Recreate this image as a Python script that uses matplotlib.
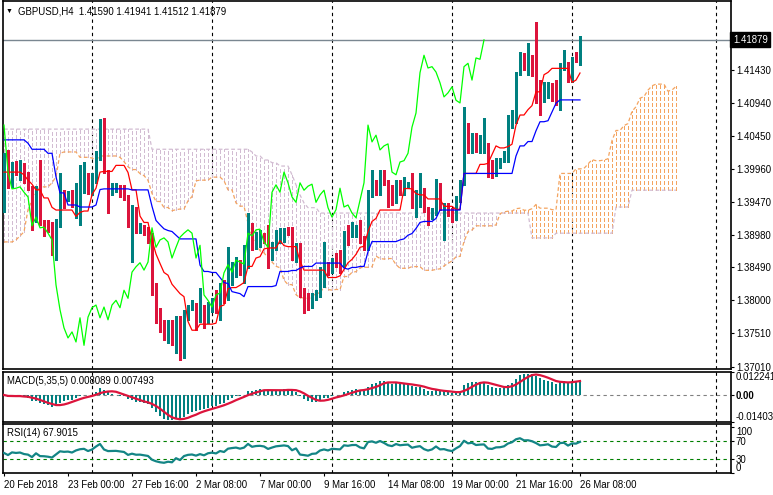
import numpy as np
import pandas as pd
import matplotlib
matplotlib.use("Agg")
import matplotlib.pyplot as plt
from matplotlib.transforms import blended_transform_factory

plt.rcParams['font.family'] = ['Liberation Sans', 'DejaVu Sans']

# GBPUSD H4 bars, 20 Feb 2018 16:00 .. 26 Mar 2018 08:00
opens = [1.3975, 1.4005, 1.3970, 1.4003, 1.3994, 1.3999, 1.3976, 1.3967, 1.3924, 1.3967,
         1.3915, 1.3912, 1.3903, 1.3887, 1.3920, 1.3960, 1.3952, 1.3955, 1.3942, 1.3967,
         1.3982, 1.3987, 1.3961, 1.3979, 1.4019, 1.4061, 1.3991, 1.3966, 1.3967, 1.3969,
         1.3961, 1.3954, 1.3911, 1.3924, 1.3908, 1.3909, 1.3900, 1.3890, 1.3823, 1.3786,
         1.3759, 1.3744, 1.3753, 1.3738, 1.3774, 1.3733, 1.3775, 1.3789, 1.3793, 1.3774,
         1.3790, 1.3771, 1.3793, 1.3800, 1.3789, 1.3815, 1.3803, 1.3842, 1.3850, 1.3856,
         1.3845, 1.3857, 1.3908, 1.3879, 1.3890, 1.3894, 1.3887, 1.3863, 1.3879, 1.3894,
         1.3900, 1.3905, 1.3900, 1.3863, 1.3882, 1.3808, 1.3800, 1.3790, 1.3808, 1.3811,
         1.3841, 1.3853, 1.3842, 1.3860, 1.3857, 1.3854, 1.3900, 1.3896, 1.3905, 1.3906,
         1.3887, 1.3879, 1.3961, 1.3972, 1.3961, 1.3991, 1.3975, 1.3954, 1.3946, 1.3975,
         1.3964, 1.3970, 1.3973, 1.3946, 1.3957, 1.3964, 1.3938, 1.3924, 1.3935, 1.3967,
         1.3939, 1.3942, 1.3930, 1.3923, 1.3949, 1.3975, 1.4061, 1.4036, 1.4046, 1.4024,
         1.4030, 1.4033, 1.3991, 1.3987, 1.4006, 1.4008, 1.4019, 1.4058, 1.4079, 1.4139,
         1.4165, 1.4146, 1.4148, 1.4140, 1.4124, 1.4103, 1.4109, 1.4118, 1.4098, 1.4094,
         1.4148, 1.4153, 1.4128, 1.4161, 1.41590]
highs = [1.4019, 1.4024, 1.4006, 1.4008, 1.4009, 1.4005, 1.3991, 1.3970, 1.3970, 1.4009,
         1.3920, 1.3920, 1.3917, 1.3921, 1.3990, 1.3964, 1.3963, 1.3964, 1.3975, 1.4002,
         1.4006, 1.3990, 1.3990, 1.4022, 1.4070, 1.4072, 1.3994, 1.3975, 1.3975, 1.3972,
         1.3972, 1.3957, 1.3942, 1.3939, 1.3915, 1.3912, 1.3909, 1.3900, 1.3826, 1.3789,
         1.3771, 1.3771, 1.3771, 1.3777, 1.3777, 1.3786, 1.3793, 1.3800, 1.3796, 1.3818,
         1.3793, 1.3798, 1.3803, 1.3815, 1.3826, 1.3830, 1.3879, 1.3857, 1.3865, 1.3860,
         1.3882, 1.3930, 1.3915, 1.3902, 1.3905, 1.3900, 1.3912, 1.3887, 1.3905, 1.3908,
         1.3908, 1.3909, 1.3909, 1.3885, 1.3885, 1.3818, 1.3811, 1.3811, 1.3815, 1.3850,
         1.3887, 1.3857, 1.3863, 1.3871, 1.3875, 1.3903, 1.3912, 1.3917, 1.3912, 1.3920,
         1.3896, 1.3964, 1.3994, 1.3979, 1.3994, 1.3994, 1.3979, 1.3972, 1.3979, 1.3979,
         1.3984, 1.3976, 1.3990, 1.3964, 1.3990, 1.3967, 1.3939, 1.3938, 1.3981, 1.3975,
         1.3945, 1.3945, 1.3938, 1.3955, 1.3979, 1.4088, 1.4064, 1.4049, 1.4049, 1.4046,
         1.4072, 1.4034, 1.4009, 1.4012, 1.4012, 1.4022, 1.4076, 1.4083, 1.4140, 1.4170,
         1.4168, 1.4183, 1.4165, 1.4215, 1.4128, 1.4125, 1.4125, 1.4124, 1.4128, 1.4153,
         1.4173, 1.4155, 1.4162, 1.4170, 1.41941]
lows = [1.3932, 1.3967, 1.3969, 1.3987, 1.3979, 1.3975, 1.3964, 1.3905, 1.3917, 1.3912,
        1.3896, 1.3902, 1.3868, 1.3860, 1.3909, 1.3938, 1.3948, 1.3939, 1.3923, 1.3912,
        1.3960, 1.3958, 1.3957, 1.3975, 1.4009, 1.3990, 1.3930, 1.3957, 1.3961, 1.3954,
        1.3949, 1.3909, 1.3857, 1.3900, 1.3900, 1.3897, 1.3885, 1.3808, 1.3766, 1.3753,
        1.3741, 1.3736, 1.3733, 1.3722, 1.3711, 1.3714, 1.3771, 1.3786, 1.3756, 1.3768,
        1.3759, 1.3766, 1.3783, 1.3781, 1.3771, 1.3796, 1.3800, 1.3823, 1.3835, 1.3838,
        1.3826, 1.3848, 1.3875, 1.3876, 1.3879, 1.3885, 1.3848, 1.3860, 1.3875, 1.3885,
        1.3887, 1.3897, 1.3860, 1.3857, 1.3805, 1.3781, 1.3786, 1.3789, 1.3800, 1.3805,
        1.3820, 1.3838, 1.3841, 1.3850, 1.3841, 1.3850, 1.3882, 1.3894, 1.3894, 1.3885,
        1.3875, 1.3875, 1.3954, 1.3957, 1.3957, 1.3972, 1.3939, 1.3942, 1.3945, 1.3957,
        1.3957, 1.3967, 1.3938, 1.3924, 1.3939, 1.3932, 1.3912, 1.3921, 1.3927, 1.3935,
        1.3890, 1.3926, 1.3917, 1.3920, 1.3946, 1.3972, 1.4019, 1.4019, 1.4021, 1.4019,
        1.4019, 1.3984, 1.3982, 1.3985, 1.3997, 1.4006, 1.4006, 1.4057, 1.4064, 1.4136,
        1.4143, 1.4136, 1.4134, 1.4094, 1.4076, 1.4095, 1.4101, 1.4097, 1.4091, 1.4083,
        1.4143, 1.4125, 1.4125, 1.4155, 1.41512]
closes = [1.4005, 1.3970, 1.4003, 1.3994, 1.3999, 1.3976, 1.3967, 1.3924, 1.3967, 1.3915,
          1.3912, 1.3903, 1.3887, 1.3920, 1.3960, 1.3952, 1.3955, 1.3942, 1.3967, 1.3982,
          1.3987, 1.3961, 1.3979, 1.4019, 1.4061, 1.3991, 1.3966, 1.3967, 1.3969, 1.3961,
          1.3954, 1.3911, 1.3924, 1.3908, 1.3909, 1.3900, 1.3890, 1.3823, 1.3786, 1.3759,
          1.3744, 1.3753, 1.3738, 1.3774, 1.3733, 1.3775, 1.3789, 1.3793, 1.3774, 1.3790,
          1.3771, 1.3793, 1.3800, 1.3789, 1.3815, 1.3803, 1.3842, 1.3850, 1.3856, 1.3845,
          1.3857, 1.3908, 1.3879, 1.3890, 1.3893, 1.3887, 1.3863, 1.3879, 1.3894, 1.3900,
          1.3905, 1.3900, 1.3863, 1.3882, 1.3808, 1.3800, 1.3790, 1.3808, 1.3811, 1.3841,
          1.3853, 1.3842, 1.3860, 1.3857, 1.3854, 1.3900, 1.3896, 1.3905, 1.3906, 1.3887,
          1.3879, 1.3961, 1.3972, 1.3961, 1.3991, 1.3975, 1.3954, 1.3946, 1.3975, 1.3964,
          1.3970, 1.3973, 1.3946, 1.3957, 1.3964, 1.3938, 1.3924, 1.3935, 1.3967, 1.3939,
          1.3942, 1.3930, 1.3923, 1.3949, 1.3975, 1.4061, 1.4036, 1.4046, 1.4024, 1.4030,
          1.4033, 1.3991, 1.3987, 1.4006, 1.4008, 1.4019, 1.4058, 1.4079, 1.4139, 1.4165,
          1.4146, 1.4148, 1.4140, 1.4124, 1.4103, 1.4109, 1.4118, 1.4098, 1.4094, 1.4148,
          1.4153, 1.4128, 1.4161, 1.4159, 1.41879]

# ichimoku values that depend on bars before the visible window
tenkan_early = [1.3991, 1.3991, 1.3991, 1.3991, 1.3991, 1.3987, 1.3979, 1.3973]
kijun_early = [1.4039, 1.4039, 1.4039, 1.4039, 1.4039, 1.4039, 1.4034, 1.4025, 1.4025,
               1.4025, 1.4025, 1.4019, 1.4019, 1.3984, 1.3960, 1.3960, 1.3942, 1.3942,
               1.3942, 1.3939, 1.3939, 1.3939, 1.3939]
senkou_a_early = [1.3887, 1.3887, 1.3887, 1.3890, 1.3896, 1.3902, 1.3935, 1.3949,
                  1.3960, 1.3969, 1.3969, 1.3969, 1.3975, 1.3984, 1.4019, 1.4021,
                  1.4021, 1.4021, 1.4021, 1.4013, 1.4013, 1.4013, 1.4012, 1.4009]
senkou_b_levels = [1.4055, 1.4025, 1.4021, 1.4015, 1.4009, 1.4005, 1.4000, 1.3987, 1.3972,
                   1.3957, 1.3945, 1.3938, 1.3930, 1.3893, 1.3900, 1.3939, 1.3964]
senkou_b_counts = [37, 25, 1, 2, 2, 2, 3, 1, 1, 1, 1, 3, 53, 6, 15, 4, 12]

tenkan_period, kijun_period = 9, 24
shift = 24

date_bars = [0, 16, 32, 48, 64, 80, 96, 112, 128, 144]
date_labels = ["20 Feb 2018", "23 Feb 00:00", "27 Feb 16:00", "2 Mar 08:00", "7 Mar 00:00",
               "9 Mar 16:00", "14 Mar 08:00", "19 Mar 00:00", "21 Mar 16:00", "26 Mar 08:00"]
week_bars = [22, 52, 82, 112, 142, 178]
price_ticks = [1.41430, 1.40940, 1.40450, 1.39960, 1.39470, 1.38980, 1.38490,
               1.38000, 1.37510, 1.37010]
last_price = 1.41879
macd_ticks = [0.012241, 0.0, -0.014037]
macd_labels = ["0.012241", "0.00", "-0.014037"]

BULL = '#008080'
BEAR = '#dc143c'
SANDY = '#f4a460'
THISTLE = '#d2bcd2'
FS = 6.9

o = np.array(opens); h = np.array(highs); l = np.array(lows); c = np.array(closes)
x = np.arange(len(c))
hs, ls_ = pd.Series(h), pd.Series(l)

# Ichimoku
tenkan = ((hs.rolling(tenkan_period).max() + ls_.rolling(tenkan_period).min()) / 2).to_numpy()
tenkan[:len(tenkan_early)] = tenkan_early
kijun = ((hs.rolling(kijun_period).max() + ls_.rolling(kijun_period).min()) / 2).to_numpy()
kijun[:len(kijun_early)] = kijun_early
span_a = np.concatenate([senkou_a_early, (tenkan + kijun) / 2])
span_b = np.repeat(senkou_b_levels, senkou_b_counts)
cloud_x = np.arange(len(span_a))

# MACD(5,35,5)
cs = pd.Series(c)
macd = (cs.ewm(span=5, adjust=False).mean() - cs.ewm(span=35, adjust=False).mean()).to_numpy()
signal = pd.Series(macd).rolling(5, min_periods=1).mean().to_numpy()

# RSI(14), Wilder smoothing seeded with first 14 moves
delta = np.diff(c, prepend=c[0])
gain = np.clip(delta, 0, None)
loss = np.clip(-delta, 0, None)
ag, al = gain[1:15].mean(), loss[1:15].mean()
rsi = []
for g, lo in zip(gain, loss):
    ag = (ag * 13 + g) / 14
    al = (al * 13 + lo) / 14
    rsi.append(100 * ag / (ag + al))

fig = plt.figure(figsize=(7.73, 4.95), dpi=100)
fig.patch.set_facecolor('white')


def panel(top, bottom):
    return fig.add_axes([3 / 773, 1 - bottom / 495, 728 / 773, (bottom - top) / 495])


ax = panel(1, 369.3)
ax_m = panel(371.7, 421.7)
ax_r = panel(424.3, 473.3)

for a in (ax, ax_m, ax_r):
    a.set_xlim(-0.25, 181.75)
    for s in a.spines.values():
        s.set_linewidth(1.2)
        s.set_color('black')
    a.yaxis.tick_right()
    a.tick_params(axis='y', length=2.5, width=0.8, pad=1.0, labelsize=FS, direction='out')
    for wb in week_bars:
        a.axvline(wb, color='black', lw=0.8, ls=(0, (3, 3)), zorder=1)

# --- main price chart ---
cloud_col = np.where(span_a >= span_b, SANDY, THISTLE)
ax.vlines(cloud_x, np.minimum(span_a, span_b), np.maximum(span_a, span_b),
          colors=cloud_col, linewidth=0.72, linestyles=(0, (4, 2.5)),
          antialiased=False, zorder=1)
ax.plot(cloud_x, span_a, color=SANDY, lw=0.9, ls=(0, (3, 2)), zorder=2)
ax.plot(cloud_x, span_b, color=THISTLE, lw=0.9, ls=(0, (3, 2)), zorder=2)

ax.axhline(last_price, color='#7a8791', lw=1.0, zorder=2)

col = np.where(c >= o, BULL, BEAR)
ax.vlines(x, l, h, colors=col, linewidth=0.8, antialiased=False, zorder=3)
ax.bar(x, np.maximum(np.abs(c - o), 0.00004), bottom=np.minimum(o, c), width=0.75,
       color=col, linewidth=0, zorder=3)

ax.plot(x, tenkan, color='#ff0000', lw=0.9, zorder=4)
ax.plot(x, kijun, color='#0000ff', lw=0.9, zorder=4)
ax.plot(x[:-shift], c[shift:], color='#00ff00', lw=0.9, zorder=4)

ax.set_ylim(1.36973, 1.42458)
ax.set_xticks([])
ax.set_yticks(price_ticks)
ax.set_yticklabels([f"{p:.5f}" for p in price_ticks])
tr = blended_transform_factory(ax.transAxes, ax.transData)
ax.text(1.0025, last_price, f"{last_price:.5f}", transform=tr, ha='left', va='center',
        color='white', fontsize=FS,
        bbox=dict(facecolor='black', edgecolor='black', boxstyle='square,pad=0.25'))

# --- MACD ---
ax_m.bar(x, macd, width=0.65, color=BULL, linewidth=0, zorder=2)
ax_m.plot(x, signal, color=BEAR, lw=1.6, zorder=3)
ax_m.axhline(0, color='#808080', lw=0.8, ls=(0, (3, 3)), zorder=1)
ax_m.set_ylim(-0.014037, 0.012241)
ax_m.set_xticks([])
ax_m.set_yticks(macd_ticks)
ax_m.set_yticklabels(macd_labels)
mlabs = ax_m.get_yticklabels()
mlabs[0].set_va('top')
mlabs[1].set_fontweight('bold')
mlabs[2].set_va('bottom')

# --- RSI ---
ax_r.plot(x, rsi, color='#138585', lw=1.6, zorder=3)
for lev in (70, 30):
    ax_r.axhline(lev, color='#007f00', lw=0.8, ls=(0, (3, 3)), zorder=1)
ax_r.set_ylim(-0.1, 105.3)
ax_r.set_yticks([100, 70, 30, 0])
ax_r.set_yticklabels(["100", "70", "30", "0"])
rlabs = ax_r.get_yticklabels()
rlabs[0].set_va('top')
rlabs[3].set_va('bottom')
ax_r.set_xticks(date_bars)
ax_r.set_xticklabels(date_labels, ha='left')
ax_r.tick_params(axis='x', length=2.5, width=0.8, pad=2.0, labelsize=FS)

# --- captions ---
fig.text(6 / 773, 1 - 11 / 495, "\u25bc", fontsize=5, va='center', ha='left')
fig.text(18 / 773, 1 - 11 / 495, "GBPUSD,H4  1.41590 1.41941 1.41512 1.41879",
         fontsize=FS, va='center', ha='left')
fig.text(7 / 773, 1 - 381 / 495, "MACD(5,35,5) 0.008089 0.007493",
         fontsize=FS, va='center', ha='left')
fig.text(7 / 773, 1 - 433 / 495, "RSI(14) 67.9015", fontsize=FS, va='center', ha='left')

fig.savefig("out.png", dpi=100, facecolor='white')
